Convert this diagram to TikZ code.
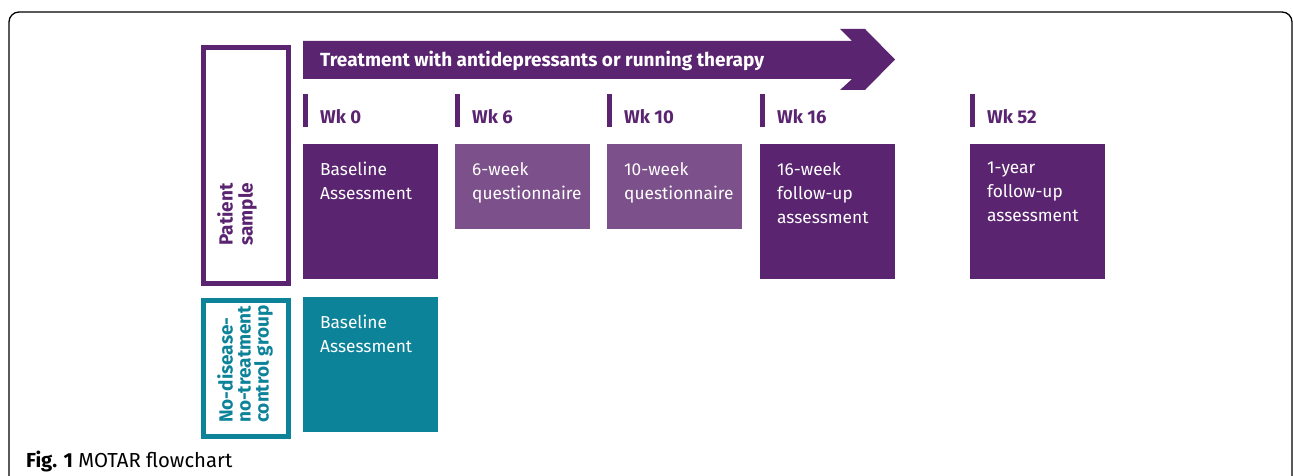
\documentclass[tikz,border=0pt]{standalone}
\usepackage{fontspec}
\setmainfont{Fira Sans}
\usetikzlibrary{positioning}

\definecolor{motarpurple}{HTML}{5A2470}
\definecolor{motarlilac}{HTML}{7C508A}
\definecolor{motarteal}{HTML}{0D8399}

\tikzset{
  stagebox/.style={fill=#1, draw=none, inner sep=0pt, anchor=north west,
    minimum width=135, minimum height=135},
  stagetext/.style={text=white, inner sep=0pt, anchor=north west, align=left,
    font=\fontsize{17.3}{24}\selectfont},
  weekbar/.style={fill=motarpurple, inner sep=0pt, anchor=north west,
    minimum width=5, minimum height=33},
  weeklabel/.style={text=motarpurple, inner sep=0pt, anchor=base west,
    font=\fontsize{18.5}{22}\selectfont\bfseries},
  grouplabel/.style={rotate=90, anchor=west, align=left, inner sep=0pt,
    font=\fontsize{19}{20}\selectfont\bfseries}
}

\begin{document}
\begin{tikzpicture}[x=1pt,y=-1pt]
  \useasboundingbox (0,0) rectangle (1293,476);
  \clip (0,0) rectangle (1293,476);
  % outer frame
  \draw[line width=1.3, rounded corners=10] (9,500) -- (9,12) -- (1292,12) -- (1292,500);

  % groups
  \node[draw=motarpurple, line width=5, inner sep=0pt, anchor=north west,
        minimum width=85, minimum height=235] (patient) at (200.5,45.5) {};
  \node[grouplabel, text=motarpurple] (patientlbl) at (237,246) {Patient\\sample};
  \node[draw=motarteal, line width=5, inner sep=0pt, anchor=north west,
        minimum width=85, minimum height=136] (control) at (200.5,297.5) {};
  \node[grouplabel, text=motarteal, font=\fontsize{19}{18}\selectfont\bfseries]
        (controllbl) at (245,423) {No-disease-\\no-treatment\\control group};

  % treatment arrow
  \fill[motarpurple] (303,41) -- (852,41) -- (840,29) -- (865,29) -- (895,59.5)
    -- (865,90) -- (840,90) -- (852,79) -- (303,79) -- cycle;
  \node[text=white, inner sep=0pt, anchor=base west,
        font=\fontsize{19}{22}\selectfont\bfseries] (treat) at (320,67)
        {Treatment with antidepressants or running therapy};

  % week markers
  \foreach \x/\wk in {303/0, 455/6, 607/10, 760/16, 970/52} {
    \node[weekbar] (bar\wk) at (\x,94) {};
    \node[weeklabel] (wk\wk) at (\x+17,124) {Wk \wk};
  }

  % assessments
  \node[stagebox=motarpurple] (base) at (303,144) {};
  \node[stagetext] (basetxt) at ([xshift=17pt,yshift=-18pt]base.north west) {Baseline\\Assessment};
  \node[stagebox=motarlilac, minimum height=85] (q6) at (455,144) {};
  \node[stagetext] (q6txt) at ([xshift=17pt,yshift=-18pt]q6.north west) {6-week\\questionnaire};
  \node[stagebox=motarlilac, minimum height=85] (q10) at (607,144) {};
  \node[stagetext] (q10txt) at ([xshift=17pt,yshift=-18pt]q10.north west) {10-week\\questionnaire};
  \node[stagebox=motarpurple] (fu16) at (760,144) {};
  \node[stagetext] (fu16txt) at ([xshift=17pt,yshift=-18pt]fu16.north west) {16-week\\follow-up\\assessment};
  \node[stagebox=motarpurple] (fu52) at (970,144) {};
  \node[stagetext] (fu52txt) at ([xshift=17pt,yshift=-18pt]fu52.north west) {1-year\\follow-up\\assessment};
  \node[stagebox=motarteal] (ctrl) at (303,297) {};
  \node[stagetext] (ctrltxt) at ([xshift=17pt,yshift=-18pt]ctrl.north west) {Baseline\\Assessment};

  % caption
  \node[inner sep=0pt, anchor=base west, font=\fontsize{20.3}{24}\selectfont] (caption)
    at (26,467) {\textbf{Fig. 1} MOTAR flowchart};
\end{tikzpicture}
\end{document}
